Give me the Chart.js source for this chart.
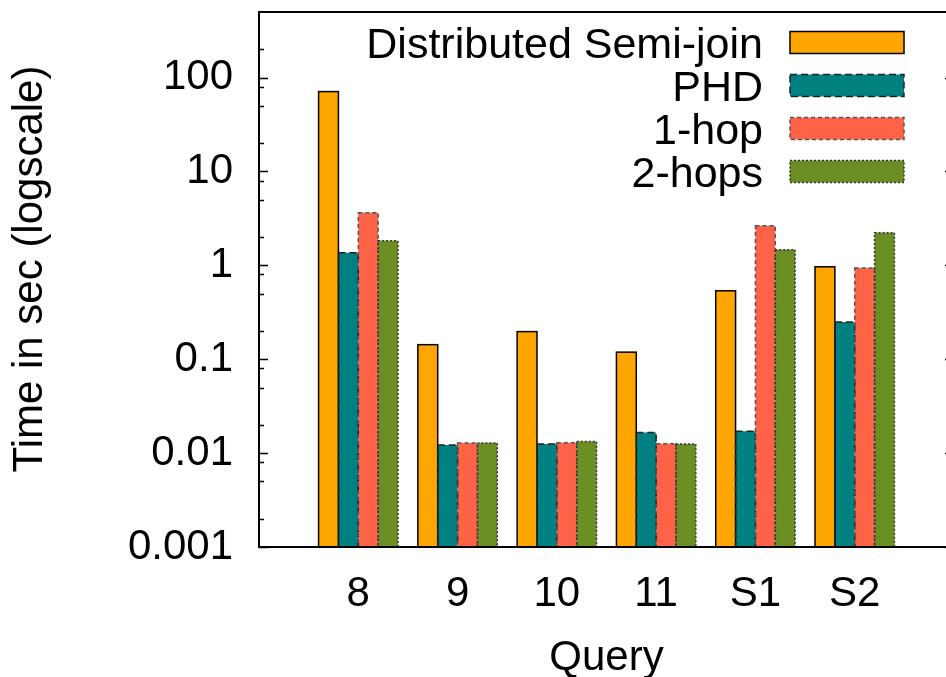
<!DOCTYPE html>
<html>
<head>
<meta charset="utf-8">
<script src="https://cdn.jsdelivr.net/npm/chart.js@4.4.1/dist/chart.umd.min.js"></script>
<style>
  html, body { margin: 0; padding: 0; background: #fff; overflow: hidden; }
  #wrap { width: 946px; height: 677px; overflow: hidden; }
</style>
</head>
<body>
<div id="wrap"><canvas id="chart" width="960" height="677"></canvas></div>
<script>
// Data
const categories = ['8', '9', '10', '11', 'S1', 'S2'];
const seriesNames = ['Distributed Semi-join', 'PHD', '1-hop', '2-hops'];
const semiJoin = [71, 0.143, 0.197, 0.119, 0.536, 0.966];
const phd = [1.36, 0.0122, 0.0125, 0.0166, 0.0171, 0.25];
const oneHop = [3.64, 0.0128, 0.0129, 0.0126, 2.64, 0.94];
const twoHops = [1.83, 0.0128, 0.0133, 0.0125, 1.47, 2.23];
const yTickValues = [0.001, 0.01, 0.1, 1, 10, 100];
const yTickLabels = ['0.001', '0.01', '0.1', '1', '10', '100'];
const yMinorValues = [2, 5, 8];

// Styles
const fillColors = ['#ffa500', '#008080', '#ff6347', '#6b8e23'];
const edgeColors = ['#000000', '#222222', '#555555', '#333333'];
const edgeDashes = [[], [7, 4], [4, 3], [2, 2]];
const FONT = '"Liberation Sans", Arial, Helvetica, sans-serif';

// gnuplot keeps an empty slot on each side of the histogram (xrange -1..6)
const labels = ['', ...categories, ''];
const pad = arr => [null, ...arr, null];
const allSeries = [semiJoin, phd, oneHop, twoHops];

const datasets = allSeries.map((vals, i) => ({
  label: seriesNames[i],
  data: pad(vals),
  backgroundColor: fillColors[i],
  borderWidth: 0,
  categoryPercentage: 0.8,
  barPercentage: 1.0
}));

// frame, inward ticks, dashed bar edges, key and y title
const gnuplotLook = {
  id: 'gnuplotLook',
  afterDatasetsDraw(chart) {
    const ctx = chart.ctx;
    chart.data.datasets.forEach((ds, i) => {
      const meta = chart.getDatasetMeta(i);
      ctx.save();
      ctx.strokeStyle = edgeColors[i];
      ctx.lineWidth = 1.5;
      ctx.setLineDash(edgeDashes[i]);
      meta.data.forEach((bar, j) => {
        if (ds.data[j] == null) return;
        const p = bar.getProps(['x', 'y', 'base', 'width'], true);
        ctx.strokeRect(p.x - p.width / 2, p.y, p.width, p.base - p.y);
      });
      ctx.restore();
    });
  },
  afterDraw(chart) {
    const ctx = chart.ctx;
    const a = chart.chartArea;
    const y = chart.scales.y;
    ctx.save();

    // ticks on left and right borders
    ctx.strokeStyle = '#000';
    ctx.lineWidth = 1.5;
    const tick = (v, len) => {
      const py = Math.round(y.getPixelForValue(v)) + 0.5;
      ctx.beginPath();
      ctx.moveTo(a.left, py); ctx.lineTo(a.left + len, py);
      ctx.moveTo(a.right, py); ctx.lineTo(a.right - len, py);
      ctx.stroke();
    };
    yTickValues.forEach(v => {
      tick(v, 9);
      yMinorValues.forEach(m => {
        const mv = v * m;
        if (mv < y.max) tick(mv, 5);
      });
    });

    // frame
    ctx.lineWidth = 2;
    ctx.strokeRect(a.left, a.top, a.right - a.left, a.bottom - a.top);

    // key
    ctx.font = '43px ' + FONT;
    ctx.textAlign = 'right';
    ctx.textBaseline = 'alphabetic';
    seriesNames.forEach((name, i) => {
      const cy = 42.5 + i * 43;
      ctx.fillStyle = '#000';
      ctx.fillText(name, 763, cy + 15);
      ctx.fillStyle = fillColors[i];
      ctx.fillRect(790, cy - 11, 114, 22);
      ctx.strokeStyle = edgeColors[i];
      ctx.lineWidth = 1.5;
      ctx.setLineDash(edgeDashes[i]);
      ctx.strokeRect(790, cy - 11, 114, 22);
      ctx.setLineDash([]);
    });

    // y title
    ctx.font = '42px ' + FONT;
    ctx.translate(30, 269);
    ctx.rotate(-Math.PI / 2);
    ctx.textAlign = 'center';
    ctx.textBaseline = 'middle';
    ctx.fillStyle = '#000';
    ctx.fillText('Time in sec (logscale)', 0, 0);
    ctx.restore();
  }
};

new Chart(document.getElementById('chart'), {
  type: 'bar',
  data: { labels: labels, datasets: datasets },
  options: {
    responsive: false,
    animation: false,
    devicePixelRatio: 1,
    layout: { padding: { top: 12, right: 6, left: 0, bottom: 0 } },
    plugins: {
      legend: { display: false },
      tooltip: { enabled: false }
    },
    scales: {
      x: {
        type: 'category',
        offset: false,
        grid: { display: false, drawTicks: false },
        border: { display: false },
        ticks: {
          color: '#000',
          font: { family: FONT, size: 42, lineHeight: 1 },
          padding: 26,
          maxRotation: 0,
          autoSkip: false
        },
        title: {
          display: true,
          text: 'Query',
          color: '#000',
          font: { family: FONT, size: 42, lineHeight: 1 },
          padding: { top: 0, bottom: -2 }
        },
        afterFit: s => {
          s.height = 130;
          s.paddingLeft = 0;
          s.paddingRight = 0;
        }
      },
      y: {
        type: 'logarithmic',
        min: 0.001,
        max: 500,
        bounds: 'data',
        grid: { display: false, drawTicks: false },
        border: { display: false },
        ticks: {
          color: '#000',
          font: { family: FONT, size: 42, lineHeight: 1 },
          padding: 26,
          callback: (v) => {
            const k = yTickValues.indexOf(v);
            return k >= 0 ? yTickLabels[k] : '';
          }
        },
        afterBuildTicks: s => { s.ticks = yTickValues.map(v => ({ value: v })); },
        afterFit: s => {
          s.width = 259;
          s.paddingTop = 0;
          s.paddingBottom = 0;
        }
      }
    }
  },
  plugins: [gnuplotLook]
});
</script>
</body>
</html>
